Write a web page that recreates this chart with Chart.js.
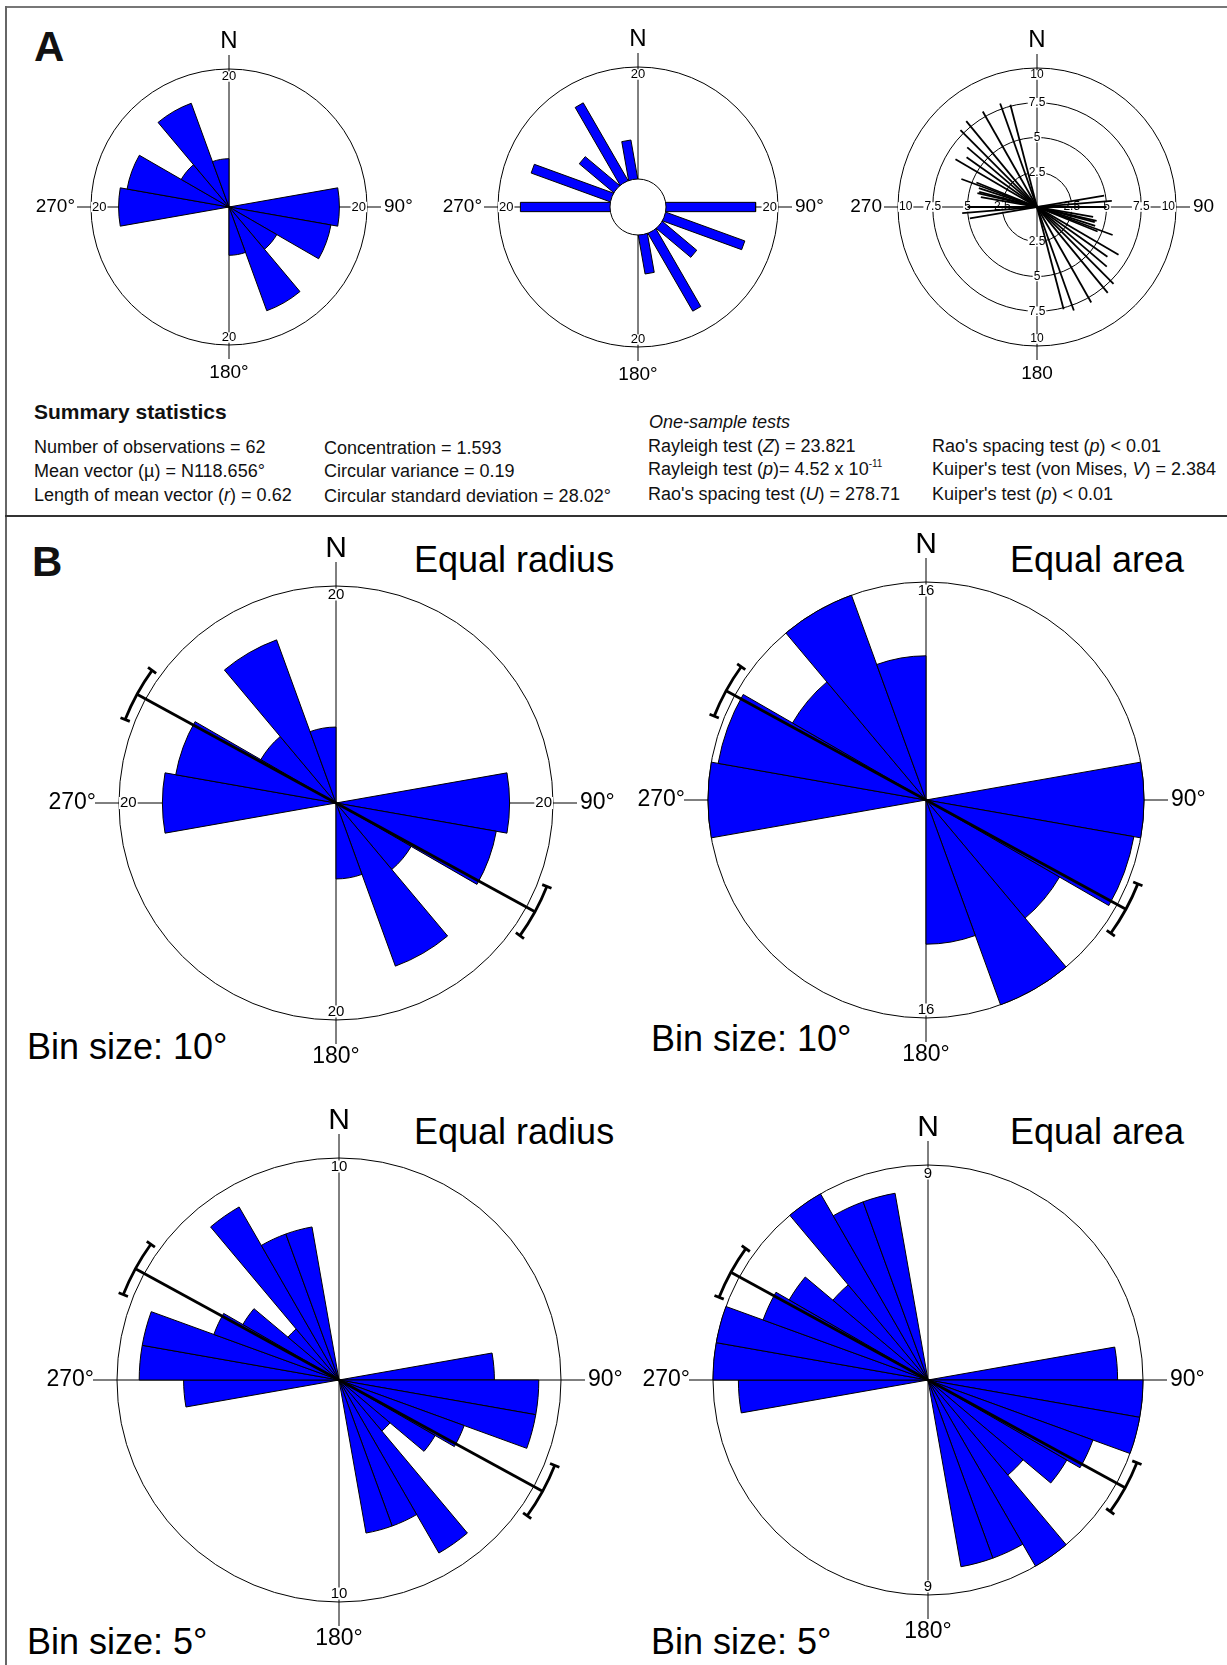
<!DOCTYPE html>
<html>
<head>
<meta charset="utf-8">
<script src="https://cdn.jsdelivr.net/npm/chart.js@4.4.1/dist/chart.umd.min.js"></script>
<style>
body { margin: 0; background: #fff; }
#page { position: relative; width: 1227px; height: 1665px; overflow: hidden; background: #fff;
        font-family: "Liberation Sans", Arial, Helvetica, sans-serif; color: #000; }
.t { position: absolute; line-height: 1; white-space: nowrap; }
.s { font-size: 18px; color: #111; }
.big { font-size: 36px; }
.panel { font-size: 42px; font-weight: bold; color: #111; }
.rule { position: absolute; }
canvas { position: absolute; }
sup { font-size: 10px; position: relative; top: -8px; vertical-align: baseline; }
</style>
</head>
<body>
<div id="page">
  <div class="rule" style="left:5px;top:6px;width:1222px;height:2px;background:#777"></div>
  <div class="rule" style="left:5px;top:6px;width:2px;height:1659px;background:#666"></div>
  <div class="rule" style="left:5px;top:515px;width:1222px;height:2px;background:#333"></div>

  <div class="t panel" style="left:34px;top:26px">A</div>
  <div class="t panel" style="left:32px;top:541px">B</div>

  <div class="t" style="left:34px;top:401px;font-size:21px;font-weight:bold;color:#111">Summary statistics</div>
  <div class="t s" style="left:34px;top:438px">Number of observations = 62</div>
  <div class="t s" style="left:34px;top:461.5px">Mean vector (µ) = N118.656°</div>
  <div class="t s" style="left:34px;top:485.5px">Length of mean vector (<i>r</i>) = 0.62</div>
  <div class="t s" style="left:324px;top:439px">Concentration = 1.593</div>
  <div class="t s" style="left:324px;top:462px">Circular variance = 0.19</div>
  <div class="t s" style="left:324px;top:486.5px">Circular standard deviation = 28.02°</div>
  <div class="t s" style="left:649px;top:412.5px"><i>One-sample tests</i></div>
  <div class="t s" style="left:648px;top:437px">Rayleigh test (<i>Z</i>) = 23.821</div>
  <div class="t s" style="left:648px;top:460px">Rayleigh test (<i>p</i>)= 4.52 x 10<sup>-11</sup></div>
  <div class="t s" style="left:648px;top:484.5px">Rao's spacing test (<i>U</i>) = 278.71</div>
  <div class="t s" style="left:932px;top:437px">Rao's spacing test (<i>p</i>) &lt; 0.01</div>
  <div class="t s" style="left:932px;top:460px">Kuiper's test (von Mises, <i>V</i>) = 2.384</div>
  <div class="t s" style="left:932px;top:484.5px">Kuiper's test (<i>p</i>) &lt; 0.01</div>

  <div class="t big" style="left:414px;top:542px">Equal radius</div>
  <div class="t big" style="left:1010px;top:542px">Equal area</div>
  <div class="t big" style="left:414px;top:1114px">Equal radius</div>
  <div class="t big" style="left:1010px;top:1114px">Equal area</div>
  <div class="t big" style="left:27px;top:1029px">Bin size: 10°</div>
  <div class="t big" style="left:651px;top:1021px">Bin size: 10°</div>
  <div class="t big" style="left:27px;top:1624px">Bin size: 5°</div>
  <div class="t big" style="left:651px;top:1624px">Bin size: 5°</div>
</div>

<script>
// counts per 20 deg sector (0-20, 20-40, ...), axial data so both ends are filled
const SECTOR_20 = [0, 0, 0, 0, 16, 15, 8, 16, 7, 0, 0, 0, 0, 16, 15, 8, 16, 7];
// counts per 10 deg sector
const SECTOR_10 = [0, 0, 0, 0, 0, 0, 0, 0, 7, 9, 9, 6, 5, 3, 9, 7, 7, 0,
                   0, 0, 0, 0, 0, 0, 0, 0, 7, 9, 9, 6, 5, 3, 9, 7, 7, 0];
// line rose: axis direction (deg) and half length
const LINE_DIR = [80.4, 85.3, 90, 100, 103, 104.7, 108, 110.3, 112, 120.4, 125.2, 130.5, 135.1, 140.5, 150.4, 160.4, 165.4];
const LINE_LEN = [4.9, 5.4, 5.0, 4.1, 4.4, 4.3, 4.4, 5.8, 4.7, 6.8, 6.2, 6.6, 7.8, 8.0, 7.9, 7.9, 7.6];
const RING_TICKS = [2.5, 5, 7.5, 10];
// mean direction and its confidence interval
const MEAN_DIR = 118.656;
const MEAN_CI = [111.6, 125.8];
const COMPASS_DEG = ['N', '90°', '180°', '270°'];
const COMPASS_PLAIN = ['N', '90', '180', '270'];

const FONT = '"Liberation Sans", Arial, Helvetica, sans-serif';
const BLUE = '#0000ff';
const FOUR = [[0, -1], [0, 1], [-1, 0], [1, 0]];
const TOP_BOTTOM = [[0, -1], [0, 1]];

const A_STYLE = {ext: 14, gapN: 28, gapS: 28, gapW: 16, gapE: 17, nSize: 24, degSize: 19, tickSize: 13};
const B_STYLE = {ext: 24, gapN: 37, gapS: 37, gapW: 23, gapE: 27, nSize: 30, degSize: 23, tickSize: 15};

const rad = d => d * Math.PI / 180;
const page = document.getElementById('page');

function geom(chart, cfg) {
    if (chart.scales.r) {
        const s = chart.scales.r;
        return {
            cx: s.xCenter, cy: s.yCenter, R: s.drawingArea,
            dist: v => s.getDistanceFromCenterForValue(cfg.area ? Math.sqrt(v) : v)
        };
    }
    const x = chart.scales.x, y = chart.scales.y;
    const cx = x.getPixelForValue(0), cy = y.getPixelForValue(0);
    return {cx: cx, cy: cy, R: x.getPixelForValue(cfg.span) - cx,
            dist: v => x.getPixelForValue(cfg.offset + v) - cx};
}

function tickLabel(ctx, text, x, y, size, edge) {
    ctx.font = size + 'px ' + FONT;
    const w = ctx.measureText(text).width;
    if (edge) {
        x -= edge[0] * (w / 2 + 1);
        y -= edge[1] * (size / 2 + 1);
    }
    ctx.fillStyle = '#fff';
    ctx.fillRect(x - w / 2 - 1, y - size * 0.4, w + 2, size * 0.8);
    ctx.fillStyle = '#000';
    ctx.textAlign = 'center';
    ctx.textBaseline = 'middle';
    ctx.fillText(text, x, y);
}

function rosePlugin(cfg) {
    const st = cfg.style;
    return {
        id: 'rose_' + cfg.id,
        beforeDatasetsDraw(chart) {
            const g = geom(chart, cfg), ctx = chart.ctx;
            const cx = g.cx, cy = g.cy, R = g.R;
            ctx.save();
            ctx.strokeStyle = '#000';
            ctx.lineWidth = 1;
            if (!chart.scales.r) {
                (cfg.rings || [cfg.max]).forEach(function (v) {
                    ctx.beginPath();
                    ctx.arc(cx, cy, g.dist(v), 0, 2 * Math.PI);
                    ctx.stroke();
                });
            }
            ctx.beginPath();
            ctx.moveTo(cx, cy - R - st.ext);
            ctx.lineTo(cx, cy + R + st.ext);
            ctx.moveTo(cx - R - st.ext, cy);
            ctx.lineTo(cx + R + st.ext, cy);
            ctx.stroke();
            if (cfg.rings) {
                cfg.rings.forEach(function (v, i) {
                    const last = i === cfg.rings.length - 1;
                    const d = g.dist(v);
                    FOUR.forEach(function (u) {
                        tickLabel(ctx, String(v), cx + u[0] * d, cy + u[1] * d, st.tickSize, last ? u : null);
                    });
                });
            }
            ctx.restore();
        },
        afterDatasetsDraw(chart) {
            const g = geom(chart, cfg), ctx = chart.ctx;
            const cx = g.cx, cy = g.cy, R = g.R;
            ctx.save();
            if (cfg.hole) {
                ctx.beginPath();
                ctx.arc(cx, cy, g.dist(0), 0, 2 * Math.PI);
                ctx.fillStyle = '#fff';
                ctx.fill();
                ctx.strokeStyle = '#000';
                ctx.lineWidth = 1;
                ctx.stroke();
            }
            if (cfg.sides) {
                cfg.sides.forEach(function (u) {
                    tickLabel(ctx, String(cfg.max), cx + u[0] * R, cy + u[1] * R, st.tickSize, u);
                });
            }
            const c = cfg.compass;
            ctx.fillStyle = '#000';
            ctx.textBaseline = 'middle';
            ctx.textAlign = 'center';
            ctx.font = st.nSize + 'px ' + FONT;
            ctx.fillText(c[0], cx, cy - R - st.gapN);
            ctx.font = st.degSize + 'px ' + FONT;
            ctx.fillText(c[2], cx, cy + R + st.gapS);
            ctx.textAlign = 'right';
            ctx.fillText(c[3], cx - R - st.gapW, cy);
            ctx.textAlign = 'left';
            ctx.fillText(c[1], cx + R + st.gapE, cy);

            if (cfg.mean) {
                const ra = R * 1.045;
                const pol = (th, r) => [cx + r * Math.sin(rad(th)), cy - r * Math.cos(rad(th))];
                ctx.strokeStyle = '#000';
                ctx.lineWidth = 2.8;
                [0, 180].forEach(function (off) {
                    const p = pol(MEAN_DIR + off, ra);
                    ctx.beginPath();
                    ctx.moveTo(cx, cy);
                    ctx.lineTo(p[0], p[1]);
                    ctx.stroke();
                    ctx.beginPath();
                    ctx.arc(cx, cy, ra, rad(MEAN_CI[0] + off - 90), rad(MEAN_CI[1] + off - 90));
                    ctx.stroke();
                    MEAN_CI.forEach(function (a) {
                        const p0 = pol(a + off, ra - 5), p1 = pol(a + off, ra + 5);
                        ctx.beginPath();
                        ctx.moveTo(p0[0], p0[1]);
                        ctx.lineTo(p1[0], p1[1]);
                        ctx.stroke();
                    });
                });
            }
            ctx.restore();
        }
    };
}

function makeCanvas(cfg) {
    const c = document.createElement('canvas');
    const size = 2 * (cfg.R + cfg.pad);
    c.width = size;
    c.height = size;
    c.style.left = (cfg.cx - cfg.R - cfg.pad) + 'px';
    c.style.top = (cfg.cy - cfg.R - cfg.pad) + 'px';
    page.appendChild(c);
    return c;
}

function baseOptions(cfg) {
    return {
        responsive: false,
        animation: false,
        events: [],
        layout: {padding: cfg.pad},
        plugins: {legend: {display: false}, tooltip: {enabled: false}}
    };
}

function wedgeRose(cfg) {
    const top = cfg.area ? Math.sqrt(cfg.max) : cfg.max;
    const opts = baseOptions(cfg);
    opts.scales = {
        r: {
            min: 0, max: top, startAngle: 0,
            ticks: {display: false, stepSize: top},
            grid: {color: '#000', lineWidth: 1},
            angleLines: {display: false},
            pointLabels: {display: false}
        }
    };
    new Chart(makeCanvas(cfg), {
        type: 'polarArea',
        data: {
            labels: cfg.counts.map((v, i) => i * 360 / cfg.counts.length),
            datasets: [{
                data: cfg.area ? cfg.counts.map(Math.sqrt) : cfg.counts,
                backgroundColor: BLUE,
                borderColor: '#000',
                borderWidth: 1
            }]
        },
        options: opts,
        plugins: [rosePlugin(cfg)]
    });
}

function scatterOptions(cfg) {
    const opts = baseOptions(cfg);
    opts.scales = {
        x: {type: 'linear', min: -cfg.span, max: cfg.span, display: false},
        y: {type: 'linear', min: -cfg.span, max: cfg.span, display: false}
    };
    return opts;
}

function barRose(cfg) {
    const step = 360 / cfg.counts.length, hw = 0.83;
    const datasets = [];
    cfg.counts.forEach(function (v, i) {
        if (!v) return;
        const t = rad(i * step + step / 2);
        const ux = Math.sin(t), uy = Math.cos(t), nx = Math.cos(t), ny = -Math.sin(t);
        const r0 = cfg.offset - 1, r1 = cfg.offset + v;
        const pts = [[r0, -hw], [r1, -hw], [r1, hw], [r0, hw], [r0, -hw]]
            .map(p => ({x: p[0] * ux + p[1] * nx, y: p[0] * uy + p[1] * ny}));
        datasets.push({
            data: pts, showLine: true, fill: 'shape', tension: 0,
            backgroundColor: BLUE, borderColor: '#000', borderWidth: 1, pointRadius: 0
        });
    });
    new Chart(makeCanvas(cfg), {
        type: 'scatter',
        data: {datasets: datasets},
        options: scatterOptions(cfg),
        plugins: [rosePlugin(cfg)]
    });
}

function lineRose(cfg) {
    const datasets = LINE_DIR.map(function (d, i) {
        const t = rad(d), L = LINE_LEN[i];
        return {
            data: [{x: -L * Math.sin(t), y: -L * Math.cos(t)}, {x: L * Math.sin(t), y: L * Math.cos(t)}],
            showLine: true, borderColor: '#000', borderWidth: 1.8, pointRadius: 0
        };
    });
    new Chart(makeCanvas(cfg), {
        type: 'scatter',
        data: {datasets: datasets},
        options: scatterOptions(cfg),
        plugins: [rosePlugin(cfg)]
    });
}

wedgeRose({id: 'a1', counts: SECTOR_20, max: 20, cx: 229, cy: 207, R: 138, pad: 60,
           style: A_STYLE, compass: COMPASS_DEG, sides: FOUR});
barRose({id: 'a2', counts: SECTOR_20, max: 20, span: 25, offset: 5, hole: true, cx: 638, cy: 207, R: 140, pad: 60,
         style: A_STYLE, compass: COMPASS_DEG, sides: FOUR});
lineRose({id: 'a3', rings: RING_TICKS, span: 10, offset: 0, cx: 1037, cy: 207, R: 139, pad: 60,
          style: Object.assign({}, A_STYLE, {tickSize: 12}), compass: COMPASS_PLAIN});

wedgeRose({id: 'b1', counts: SECTOR_20, max: 20, cx: 336, cy: 803, R: 217, pad: 80,
           style: B_STYLE, compass: COMPASS_DEG, sides: FOUR, mean: true});
wedgeRose({id: 'b2', counts: SECTOR_20, max: 16, area: true, cx: 926, cy: 800, R: 218, pad: 80,
           style: B_STYLE, compass: COMPASS_DEG, sides: TOP_BOTTOM, mean: true});
wedgeRose({id: 'b3', counts: SECTOR_10, max: 10, cx: 339, cy: 1380, R: 222, pad: 80,
           style: B_STYLE, compass: COMPASS_DEG, sides: TOP_BOTTOM, mean: true});
wedgeRose({id: 'b4', counts: SECTOR_10, max: 9, area: true, cx: 928, cy: 1380, R: 215, pad: 80,
           style: B_STYLE, compass: COMPASS_DEG, sides: TOP_BOTTOM, mean: true});
</script>
</body>
</html>
